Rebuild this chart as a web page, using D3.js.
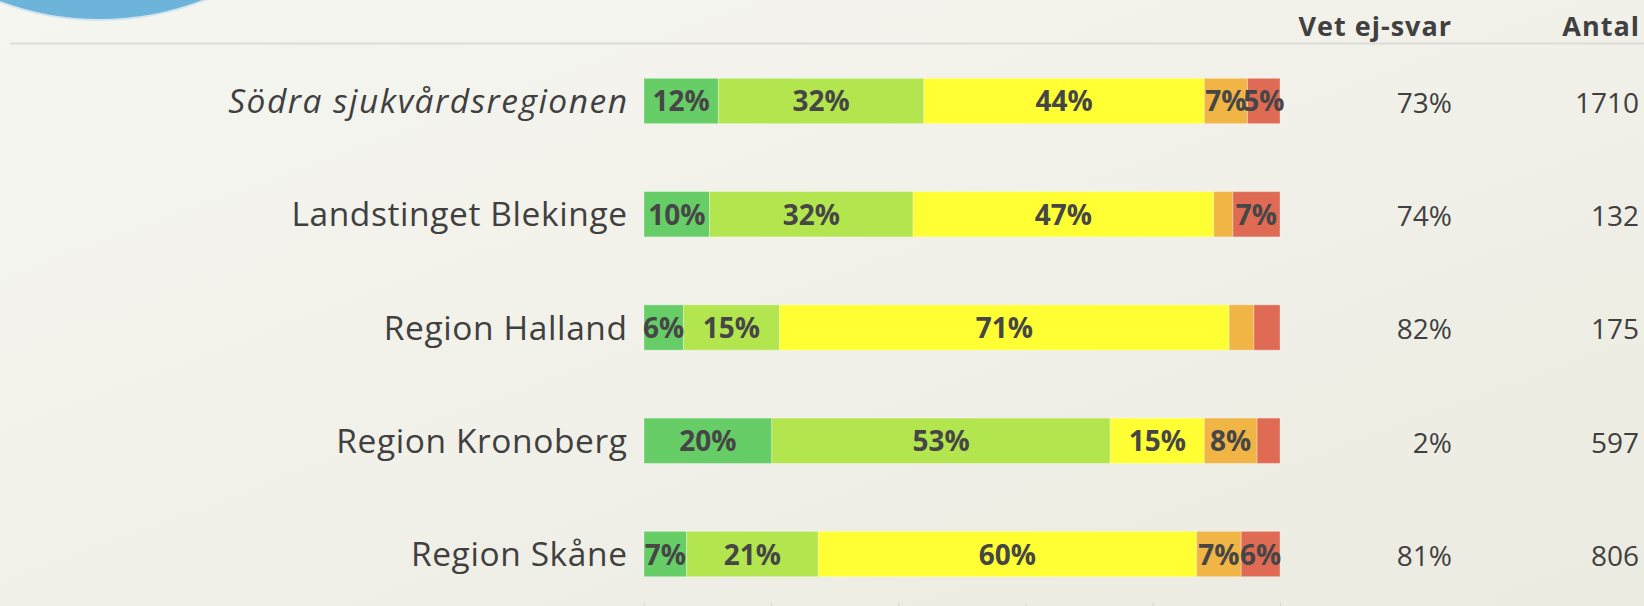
<!DOCTYPE html>
<html>
<head>
<meta charset="utf-8">
<script src="https://cdn.jsdelivr.net/npm/d3@7"></script>
<style>
  html, body { margin: 0; padding: 0; }
  body { width: 1644px; height: 606px; overflow: hidden; }
  svg { display: block; }
</style>
</head>
<body>
<svg id="chart" width="1644" height="606"></svg>
<script>
// ---- data ----
const categories = ["Södra sjukvårdsregionen", "Landstinget Blekinge", "Region Halland", "Region Kronoberg", "Region Skåne"];
const seriesNames = ["Andel 1", "Andel 2", "Andel 3", "Andel 4", "Andel 5"];
const series1 = [11.7, 10.3, 6.2, 20.1, 6.7];
const series2 = [32.3, 32.0, 15.1, 53.2, 20.7];
const series3 = [44.1, 47.3, 70.7, 14.8, 59.5];
const series4 = [6.8, 3.0, 3.9, 8.3, 7.0];
const series5 = [5.1, 7.4, 4.1, 3.6, 6.1];
const vetEjSvar = [73, 74, 82, 2, 81];
const antal = [1710, 132, 175, 597, 806];
const xTicks = [0, 20, 40, 60, 80, 100];
const headers = ["Vet ej-svar", "Antal"];
const colors = ["#66cd67", "#b3e64e", "#ffff33", "#f0b545", "#e06b55"];

// ---- build table ----
const allSeries = [series1, series2, series3, series4, series5];
const rows = categories.map((c, i) => {
  const r = { category: c };
  seriesNames.forEach((s, j) => r[s] = allSeries[j][i]);
  return r;
});

const svg = d3.select("#chart");
const W = 1644, H = 606;

// background gradient
const defs = svg.append("defs");
const bg = defs.append("linearGradient").attr("id", "bg")
  .attr("x1", "0").attr("y1", "0").attr("x2", "1").attr("y2", "1");
bg.append("stop").attr("offset", "0%").attr("stop-color", "#f6f6f1");
bg.append("stop").attr("offset", "100%").attr("stop-color", "#ecebe1");
svg.append("rect").attr("width", W).attr("height", H).attr("fill", "url(#bg)");

// decorative circle top-left
svg.append("circle").attr("cx", 100).attr("cy", -266).attr("r", 286)
  .attr("fill", "#6db4db").attr("stroke", "#d3e5ec").attr("stroke-width", 2);

// header rule
svg.append("line").attr("x1", 10).attr("x2", W).attr("y1", 43.5).attr("y2", 43.5)
  .attr("stroke", "#dcdcd8").attr("stroke-width", 2);

const x = d3.scaleLinear().domain([0, 100]).range([644, 1280]);
const y = d3.scaleBand().domain(categories).range([44.35, 610.65])
  .paddingInner(0.6).paddingOuter(0.3);
const color = d3.scaleOrdinal().domain(seriesNames).range(colors);

const stack = d3.stack().keys(seriesNames);
const stacked = stack(rows);

const textColor = "#404040";

// bars
const layers = svg.append("g").selectAll("g").data(stacked).join("g")
  .attr("fill", d => color(d.key));
layers.selectAll("rect").data(d => d).join("rect")
  .attr("x", d => x(d[0]))
  .attr("y", d => y(d.data.category))
  .attr("width", d => x(d[1]) - x(d[0]))
  .attr("height", y.bandwidth())
  .attr("stroke", "rgba(255,255,255,0.3)")
  .attr("stroke-width", 1);

// segment labels
const labelG = svg.append("g");
stacked.forEach(layer => {
  layer.forEach(d => {
    const v = d[1] - d[0];
    if (v < 4.5) return;
    labelG.append("text")
      .attr("x", (x(d[0]) + x(d[1])) / 2)
      .attr("y", y(d.data.category) + y.bandwidth() / 2 + 10.5)
      .attr("text-anchor", "middle")
      .attr("font-family", "'Open Sans', sans-serif")
      .attr("font-weight", "bold")
      .attr("font-size", 28)
      .attr("fill", "#464646")
      .text(Math.round(v) + "%");
  });
});

// category labels
svg.append("g").selectAll("text").data(categories).join("text")
  .attr("x", (d, i) => 627 + (i === 0 ? 1.5 : 0.6))
  .attr("y", d => y(d) + y.bandwidth() / 2 + 12)
  .attr("text-anchor", "end")
  .attr("font-family", "'Open Sans', sans-serif")
  .attr("font-size", 33.5)
  .attr("letter-spacing", (d, i) => i === 0 ? 1.5 : 0.6)
  .attr("font-style", (d, i) => i === 0 ? "italic" : "normal")
  .attr("fill", textColor)
  .text(d => d);

// right columns
svg.append("g").selectAll("text").data(categories).join("text")
  .attr("x", 1452)
  .attr("y", d => y(d) + y.bandwidth() / 2 + 11.8)
  .attr("text-anchor", "end")
  .attr("font-family", "'Open Sans', sans-serif")
  .attr("font-size", 28)
  .attr("fill", textColor)
  .text((d, i) => vetEjSvar[i] + "%");

svg.append("g").selectAll("text").data(categories).join("text")
  .attr("x", 1639)
  .attr("y", d => y(d) + y.bandwidth() / 2 + 11.8)
  .attr("text-anchor", "end")
  .attr("font-family", "'Open Sans', sans-serif")
  .attr("font-size", 28)
  .attr("fill", textColor)
  .text((d, i) => antal[i]);

// headers
svg.append("g").selectAll("text").data(headers).join("text")
  .attr("x", (d, i) => i === 0 ? 1452 : 1640)
  .attr("y", 36)
  .attr("text-anchor", "end")
  .attr("font-family", "'Open Sans', sans-serif")
  .attr("font-weight", "bold")
  .attr("font-size", 27)
  .attr("letter-spacing", 1)
  .attr("fill", textColor)
  .text(d => d);

// bottom axis ticks (labels fall outside the view)
const axis = svg.append("g").attr("transform", "translate(0,603)")
  .call(d3.axisBottom(x).tickValues(xTicks).tickSize(8).tickFormat(""));
axis.select(".domain").remove();
axis.selectAll(".tick line").attr("stroke", "#d4d4d0").attr("stroke-width", 1);
</script>
</body>
</html>
